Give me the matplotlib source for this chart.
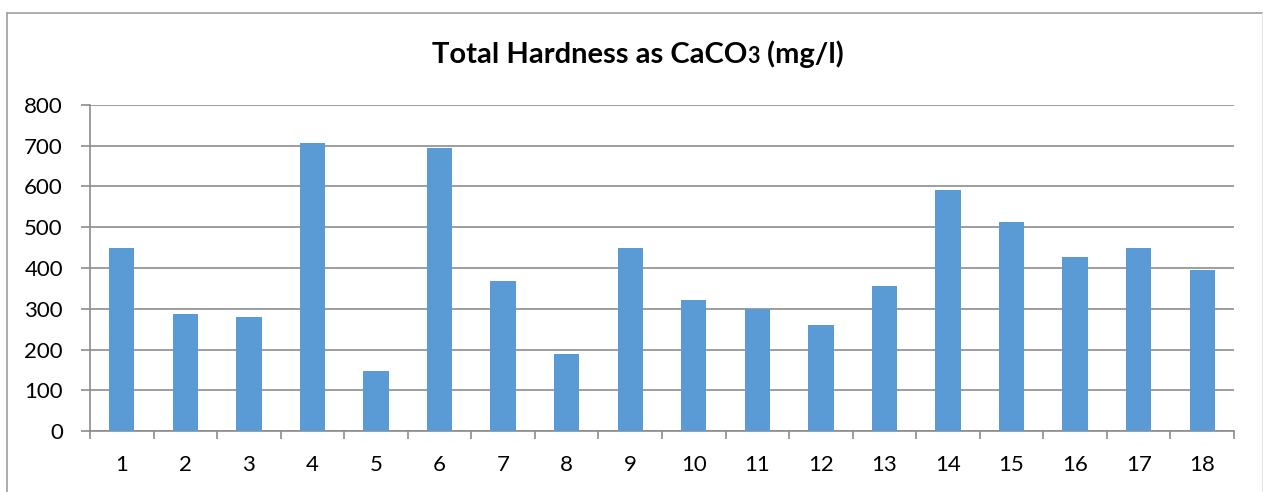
import matplotlib
matplotlib.use("Agg")
import matplotlib.pyplot as plt
from matplotlib.offsetbox import TextArea, HPacker, AnnotationBbox
from matplotlib.lines import Line2D
import numpy as np

# Sample sites and measured total hardness (mg/l as CaCO3)
sites = [str(i) for i in range(1, 19)]
hardness = [450, 288, 280, 707, 147, 694, 368, 190, 450,
            322, 300, 260, 355, 592, 512, 428, 450, 394]
y_ticks = [0, 100, 200, 300, 400, 500, 600, 700, 800]

W, H = 1263, 492
fig = plt.figure(figsize=(W / 100, H / 100), dpi=100)
plt.rcParams["font.family"] = ["Lato", "DejaVu Sans"]

# outer chart frame
frame_col = "#A6A6A6"
fig.add_artist(Line2D([7 / W, 7 / W], [0, 1 - 13 / H], transform=fig.transFigure,
                      color=frame_col, lw=1.3))
fig.add_artist(Line2D([7 / W, 1], [1 - 13 / H, 1 - 13 / H], transform=fig.transFigure,
                      color=frame_col, lw=1.3))
fig.add_artist(Line2D([1261.5 / W, 1261.5 / W], [0, 1 - 13 / H], transform=fig.transFigure,
                      color="#E6E6E6", lw=1.0))

left, right, top, bottom = 90, 1234, 105, 431
ax = fig.add_axes([left / W, 1 - bottom / H, (right - left) / W, (bottom - top) / H])

x = np.arange(1, len(sites) + 1)
ax.bar(x, hardness, width=0.4, color="#5B9BD5", zorder=3)

ax.set_xlim(0.5, len(sites) + 0.5)
ax.set_ylim(0, 800)
ax.set_yticks(y_ticks)
ax.set_yticklabels([str(v) for v in y_ticks])
ax.set_xticks(x)
ax.set_xticklabels(sites)
ax.set_xticks(np.arange(0.5, len(sites) + 1.0, 1.0), minor=True)

grid_col = "#8C8C8C"
ax.grid(axis="y", color=grid_col, lw=1.2, zorder=0)
for s in ["top", "right"]:
    ax.spines[s].set_visible(False)
ax.spines["left"].set_color(grid_col)
ax.spines["bottom"].set_color(grid_col)
ax.spines["left"].set_linewidth(1.2)
ax.spines["bottom"].set_linewidth(1.2)

ax.tick_params(axis="y", length=6.5, width=1.2, color=grid_col, pad=13,
               labelsize=16, labelcolor="black")
ax.tick_params(axis="x", which="major", length=0, pad=17, labelsize=16,
               labelcolor="black")
ax.tick_params(axis="x", which="minor", length=6, width=1.2, color=grid_col)

# title with the small "3" of CaCO3
tprops = dict(fontsize=21, fontweight="bold", color="black", family=["Lato", "DejaVu Sans"])
sprops = dict(fontsize=15.5, fontweight="bold", color="black", family=["Lato", "DejaVu Sans"])
title = HPacker(children=[TextArea("Total Hardness as CaCO", textprops=tprops),
                          TextArea("3", textprops=sprops),
                          TextArea(" (mg/l)", textprops=tprops)],
                align="baseline", pad=0, sep=0)
ab = AnnotationBbox(title, (638 / W, 1 - 54 / H), xycoords="figure fraction",
                    frameon=False, box_alignment=(0.5, 0.5))
fig.add_artist(ab)

fig.savefig("out.png", dpi=100)
